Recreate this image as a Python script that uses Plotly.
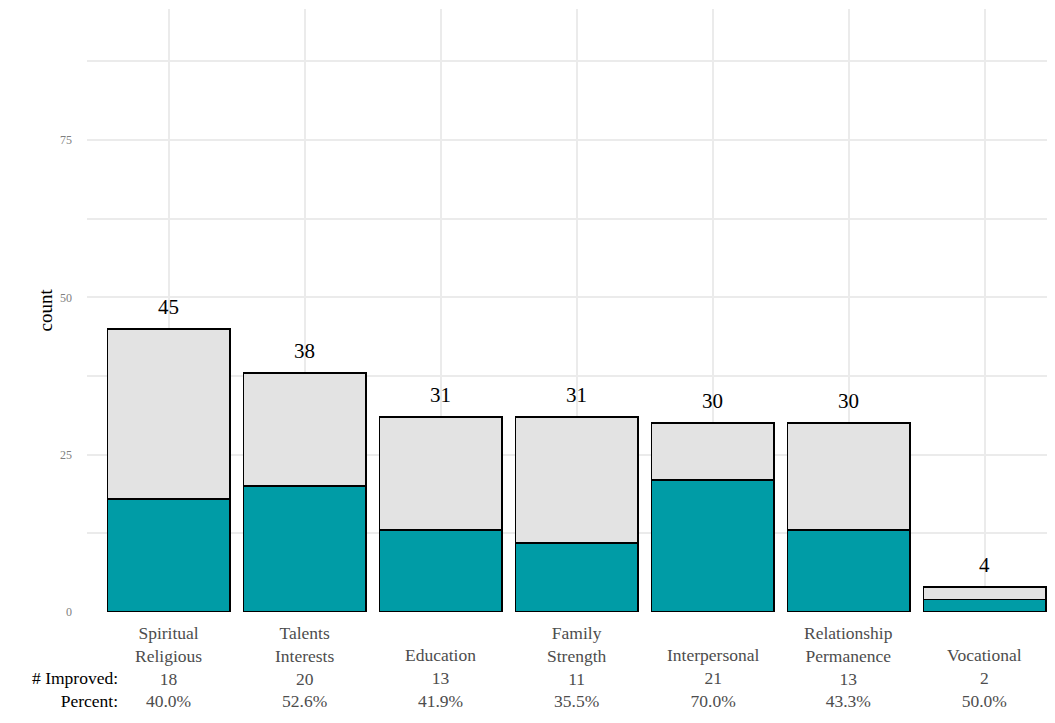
import plotly.graph_objects as go

categories = ["Spiritual Religious", "Talents Interests", "Education", "Family Strength",
              "Interpersonal", "Relationship Permanence", "Vocational"]
total = [45, 38, 31, 31, 30, 30, 4]
improved = [18, 20, 13, 11, 21, 13, 2]
not_improved = [t - i for t, i in zip(total, improved)]
percent_labels = [f"{100 * i / t:.1f}%" for i, t in zip(improved, total)]
y_ticks = [0, 25, 50, 75]

FONT = "Liberation Serif"
TEAL = "#009ca6"
GREY = "#e3e3e3"
LAB_SIZE = 17.5

fig = go.Figure()
fig.add_trace(go.Bar(x=categories, y=improved, width=0.9, marker=dict(color=TEAL, line=dict(color="black", width=1.8)), hoverinfo="skip"))
fig.add_trace(go.Bar(x=categories, y=not_improved, width=0.9, marker=dict(color=GREY, line=dict(color="black", width=1.8)), hoverinfo="skip"))

annotations = []
for c, t in zip(categories, total):
    annotations.append(dict(x=c, y=t, xref="x", yref="y", text=str(t), showarrow=False,
                            yanchor="bottom", yshift=8, font=dict(family=FONT, size=21, color="black")))

bottom_shift = -101
for c, imp, pct in zip(categories, improved, percent_labels):
    text = "<br>".join(c.split(" ") + [str(imp), pct])
    annotations.append(dict(x=c, y=0, xref="x", yref="paper", text=text, showarrow=False,
                            yanchor="bottom", yshift=bottom_shift, align="center",
                            font=dict(family=FONT, size=LAB_SIZE, color="#4d4d4d")))

annotations.append(dict(x=0, y=0, xref="paper", yref="paper", text="# Improved:<br>Percent:", showarrow=False,
                        xanchor="right", yanchor="bottom", align="right", xshift=33, yshift=bottom_shift,
                        font=dict(family=FONT, size=LAB_SIZE, color="black")))

annotations.append(dict(x=0, y=0.5, xref="paper", yref="paper", text="count", showarrow=False,
                        textangle=-90, xanchor="center", yanchor="middle", xshift=-42,
                        font=dict(family=FONT, size=19, color="black")))

fig.update_layout(
    barmode="stack",
    width=1047, height=715,
    margin=dict(l=79, r=0, t=1, b=111),
    plot_bgcolor="white", paper_bgcolor="white",
    showlegend=False,
    annotations=annotations,
    font=dict(family=FONT),
)
fig.update_xaxes(range=[-0.6, -0.6 + 968 / 136], showticklabels=False, showgrid=True,
                 gridcolor="#ebebeb", gridwidth=1.5, zeroline=False, showline=False, ticks="")
fig.update_yaxes(range=[0, 603 / 6.293], tickvals=y_ticks, showgrid=True, gridcolor="#ebebeb", gridwidth=1.5,
                 minor=dict(dtick=12.5, showgrid=True, gridcolor="#ebebeb", gridwidth=1.5, tick0=0),
                 zeroline=False, showline=False, ticks="", ticklabelstandoff=14,
                 tickfont=dict(family=FONT, size=12, color="#7f7f7f"))

fig.write_html("out.html")
